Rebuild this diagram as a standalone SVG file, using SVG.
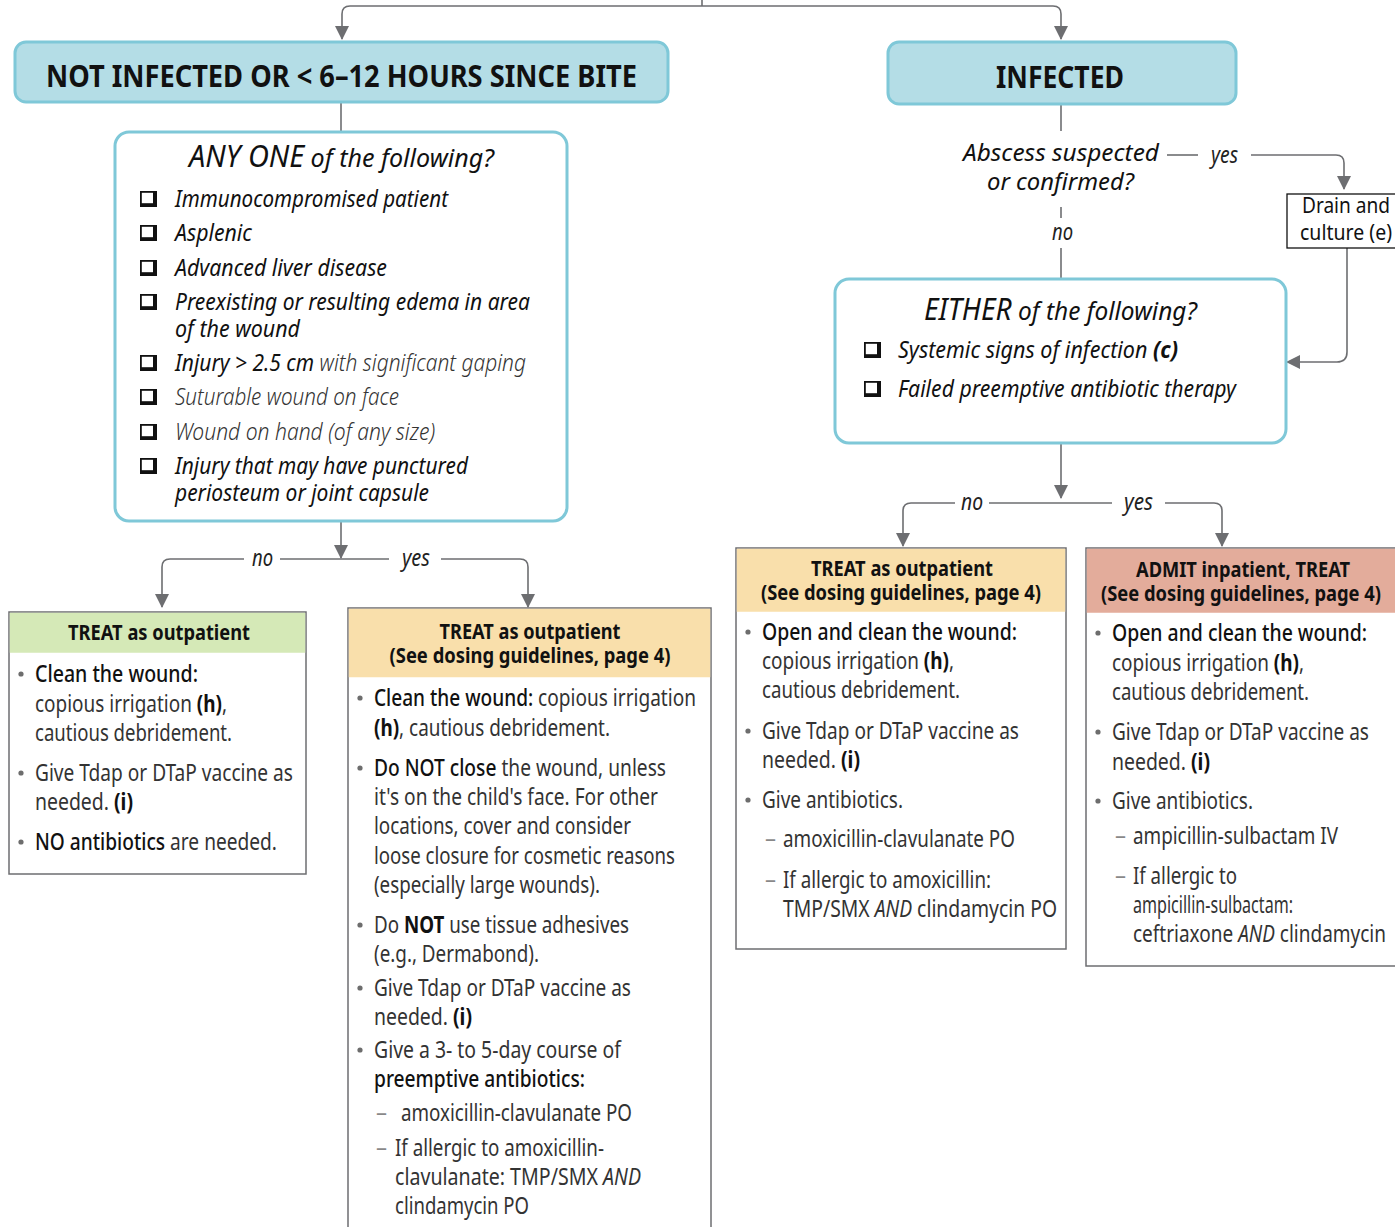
<svg xmlns="http://www.w3.org/2000/svg" width="1395" height="1227" viewBox="0 0 1395 1227">
<style>
text{font-family:"Noto Sans","Open Sans","Liberation Sans",sans-serif;}
.body{font-size:23.5px;fill:#333;}
.m{fill:#111;font-weight:500;}
.b{font-weight:bold;fill:#111;}
.i{font-style:italic;}
.hdr{font-size:20.5px;font-weight:bold;fill:#111;text-anchor:middle;}
.chk{font-size:24px;font-style:italic;fill:#111;}
.lt{font-weight:300;fill:#333;}
.lab{font-size:23px;font-style:italic;fill:#222;}
.big{font-size:30px;font-weight:bold;fill:#111;}
.ttl{font-size:26px;font-style:italic;fill:#111;}
.drn{font-size:22px;fill:#111;}
.bul{fill:#6d6d6d;}
.dash{font-size:22px;fill:#888;}
.conn{fill:none;stroke:#6d6e71;stroke-width:1.6;}
.blue{fill:#b4dde6;stroke:#7fc8d8;stroke-width:3;}
.q{fill:#fff;stroke:#7fc8d8;stroke-width:3;}
.card{fill:#fff;stroke:#6d6e71;stroke-width:1.5;}
</style>
<defs>
<marker id="ah" markerUnits="userSpaceOnUse" markerWidth="14" markerHeight="16" viewBox="0 0 14 16" refX="13" refY="8" orient="auto">
<path d="M0,1 L14,8 L0,15 Z" fill="#6d6e71"/>
</marker>
<symbol id="cb" viewBox="0 0 17 16" width="17" height="16">
<rect x="0" y="0" width="17" height="16" fill="#111"/>
<rect x="1.8" y="1.8" width="11.2" height="10.4" fill="#fff"/>
</symbol>
</defs>

<g id="connectors">
<path class="conn" d="M702,0 V6"/>
<path class="conn" d="M702,6 H350 Q342,6 342,14 V39" marker-end="url(#ah)"/>
<path class="conn" d="M702,6 H1053 Q1061,6 1061,14 V39" marker-end="url(#ah)"/>
<path class="conn" d="M341,102 V132"/>
<path class="conn" d="M341,521 V558" marker-end="url(#ah)"/>
<path class="conn" d="M244,559 H170 Q162,559 162,567 V607" marker-end="url(#ah)"/>
<path class="conn" d="M280,559 H389"/>
<path class="conn" d="M441,559 H520 Q528,559 528,567 V607" marker-end="url(#ah)"/>
<path class="conn" d="M1061,104 V131"/>
<path class="conn" d="M1167,155 H1198"/>
<path class="conn" d="M1251,155 H1336 Q1344,155 1344,163 V189" marker-end="url(#ah)"/>
<path class="conn" d="M1347,248 V352 Q1347,362 1337,362 H1287" marker-end="url(#ah)"/>
<path class="conn" d="M1061,207 V218"/>
<path class="conn" d="M1061,248 V279"/>
<path class="conn" d="M1061,443 V498" marker-end="url(#ah)"/>
<path class="conn" d="M955,503 H911 Q903,503 903,511 V546" marker-end="url(#ah)"/>
<path class="conn" d="M989,503 H1112"/>
<path class="conn" d="M1165,503 H1214 Q1222,503 1222,511 V546" marker-end="url(#ah)"/>
<text class="lab" transform="matrix(.82 0 0 1 252 566)" textLength="25.6" lengthAdjust="spacingAndGlyphs">no</text>
<text class="lab" transform="matrix(.82 0 0 1 402 566)" textLength="34.1" lengthAdjust="spacingAndGlyphs">yes</text>
<text class="lab" transform="matrix(.82 0 0 1 1211 163)" textLength="32.9" lengthAdjust="spacingAndGlyphs">yes</text>
<text class="lab" transform="matrix(.82 0 0 1 1052 240)" textLength="25.6" lengthAdjust="spacingAndGlyphs">no</text>
<text class="lab" transform="matrix(.82 0 0 1 961 510)" textLength="26.8" lengthAdjust="spacingAndGlyphs">no</text>
<text class="lab" transform="matrix(.82 0 0 1 1124 510)" textLength="35.4" lengthAdjust="spacingAndGlyphs">yes</text>
</g>

<g id="not-infected">
<rect class="blue" x="15" y="42" width="653" height="60" rx="11"/>
<text class="big" transform="matrix(.76 0 0 1 46 87)" textLength="777.6" lengthAdjust="spacingAndGlyphs">NOT INFECTED OR &lt; 6–12 HOURS SINCE BITE</text>
</g>

<g id="infected">
<rect class="blue" x="888" y="42" width="348" height="62" rx="11"/>
<text class="big" transform="matrix(.76 0 0 1 996 88)" textLength="168.4" lengthAdjust="spacingAndGlyphs">INFECTED</text>
</g>

<g id="any-one">
<rect class="q" x="115" y="132" width="452" height="389" rx="14"/>
<text class="ttl" transform="matrix(.82 0 0 1 189 167)" textLength="372" lengthAdjust="spacingAndGlyphs"><tspan font-size="30px">ANY ONE</tspan> of the following?</text>
<use href="#cb" x="140" y="191"/>
<text class="chk" transform="matrix(.82 0 0 1 175 207)" textLength="332.9" lengthAdjust="spacingAndGlyphs">Immunocompromised patient</text>
<use href="#cb" x="140" y="225"/>
<text class="chk" transform="matrix(.82 0 0 1 175 241)" textLength="93.9" lengthAdjust="spacingAndGlyphs">Asplenic</text>
<use href="#cb" x="140" y="260"/>
<text class="chk" transform="matrix(.82 0 0 1 175 276)" textLength="258.5" lengthAdjust="spacingAndGlyphs">Advanced liver disease</text>
<use href="#cb" x="140" y="294"/>
<text class="chk" transform="matrix(.82 0 0 1 175 310)" textLength="432.9" lengthAdjust="spacingAndGlyphs">Preexisting or resulting edema in area</text>
<text class="chk" transform="matrix(.82 0 0 1 175 337)" textLength="152.4" lengthAdjust="spacingAndGlyphs">of the wound</text>
<use href="#cb" x="140" y="355"/>
<text class="chk" transform="matrix(.82 0 0 1 175 371)" textLength="428" lengthAdjust="spacingAndGlyphs">Injury &gt; 2.5 cm <tspan class="lt">with significant gaping</tspan></text>
<use href="#cb" x="140" y="389"/>
<text class="chk lt" transform="matrix(.82 0 0 1 175 405)" textLength="273.2" lengthAdjust="spacingAndGlyphs">Suturable wound on face</text>
<use href="#cb" x="140" y="424"/>
<text class="chk lt" transform="matrix(.82 0 0 1 175 440)" textLength="317.1" lengthAdjust="spacingAndGlyphs">Wound on hand (of any size)</text>
<use href="#cb" x="140" y="458"/>
<text class="chk" transform="matrix(.82 0 0 1 175 474)" textLength="357.3" lengthAdjust="spacingAndGlyphs">Injury that may have punctured</text>
<text class="chk" transform="matrix(.82 0 0 1 175 501)" textLength="309.8" lengthAdjust="spacingAndGlyphs">periosteum or joint capsule</text>
</g>

<g id="abscess">
<text class="chk" transform="matrix(.82 0 0 1 963 161)" textLength="239" lengthAdjust="spacingAndGlyphs">Abscess suspected</text>
<text class="chk" transform="matrix(.82 0 0 1 987 190)" textLength="179.3" lengthAdjust="spacingAndGlyphs">or confirmed?</text>
</g>

<g id="drain">
<rect x="1287" y="194" width="120" height="54" fill="#fff" stroke="#111" stroke-width="1.3"/>
<text class="drn" transform="matrix(.8 0 0 1 1302 213)" textLength="110" lengthAdjust="spacingAndGlyphs">Drain and</text>
<text class="drn" transform="matrix(.8 0 0 1 1300 240)" textLength="115" lengthAdjust="spacingAndGlyphs">culture (e)</text>
</g>

<g id="either">
<rect class="q" x="835" y="279" width="451" height="164" rx="14"/>
<text class="ttl" transform="matrix(.82 0 0 1 924 320)" textLength="332.9" lengthAdjust="spacingAndGlyphs"><tspan font-size="30px">EITHER</tspan> of the following?</text>
<use href="#cb" x="864" y="342"/>
<text class="chk" transform="matrix(.82 0 0 1 898 358)" textLength="341.5" lengthAdjust="spacingAndGlyphs">Systemic signs of infection <tspan font-weight="bold">(c)</tspan></text>
<use href="#cb" x="864" y="381"/>
<text class="chk" transform="matrix(.82 0 0 1 898 397)" textLength="412.2" lengthAdjust="spacingAndGlyphs">Failed preemptive antibiotic therapy</text>
</g>

<g id="treat-green">
<rect class="card" x="9" y="612" width="297" height="262"/>
<rect x="9.75" y="612.75" width="295.5" height="40" fill="#d5e9b7"/>
<text class="hdr" transform="matrix(.74 0 0 1 159 640)" textLength="245.9" lengthAdjust="spacingAndGlyphs">TREAT as outpatient</text>
<circle class="bul" cx="21" cy="674" r="2.6"/>
<text class="body" transform="matrix(.74 0 0 1 35 682)" textLength="220.3" lengthAdjust="spacingAndGlyphs"><tspan class="m">Clean the wound:</tspan></text>
<text class="body" transform="matrix(.74 0 0 1 35 712)" textLength="259.5" lengthAdjust="spacingAndGlyphs">copious irrigation <tspan class="b">(h)</tspan>,</text>
<text class="body" transform="matrix(.74 0 0 1 35 741)" textLength="266.2" lengthAdjust="spacingAndGlyphs">cautious debridement.</text>
<circle class="bul" cx="21" cy="773" r="2.6"/>
<text class="body" transform="matrix(.74 0 0 1 35 781)" textLength="348.6" lengthAdjust="spacingAndGlyphs">Give Tdap or DTaP vaccine as</text>
<text class="body" transform="matrix(.74 0 0 1 35 810)" textLength="132.4" lengthAdjust="spacingAndGlyphs">needed. <tspan class="b">(i)</tspan></text>
<circle class="bul" cx="21" cy="842" r="2.6"/>
<text class="body" transform="matrix(.74 0 0 1 35 850)" textLength="327" lengthAdjust="spacingAndGlyphs"><tspan class="m">NO antibiotics</tspan> are needed.</text>
</g>

<g id="treat-preemptive">
<rect class="card" x="348" y="608" width="363" height="640"/>
<rect x="348.75" y="608.75" width="361.5" height="68.5" fill="#f9dfab"/>
<text class="hdr" transform="matrix(.74 0 0 1 530 639)" textLength="244.6" lengthAdjust="spacingAndGlyphs">TREAT as outpatient</text>
<text class="hdr" transform="matrix(.74 0 0 1 530 663)" textLength="379.7" lengthAdjust="spacingAndGlyphs">(See dosing guidelines, page 4)</text>
<circle class="bul" cx="360" cy="698" r="2.6"/>
<text class="body" transform="matrix(.74 0 0 1 374 706)" textLength="435.1" lengthAdjust="spacingAndGlyphs"><tspan class="m">Clean the wound:</tspan> copious irrigation</text>
<text class="body" transform="matrix(.74 0 0 1 374 736)" textLength="318.9" lengthAdjust="spacingAndGlyphs"><tspan class="b">(h)</tspan>, cautious debridement.</text>
<circle class="bul" cx="360" cy="768" r="2.6"/>
<text class="body" transform="matrix(.74 0 0 1 374 776)" textLength="394.6" lengthAdjust="spacingAndGlyphs"><tspan class="m">Do NOT close</tspan> the wound, unless</text>
<text class="body" transform="matrix(.74 0 0 1 374 805)" textLength="383.8" lengthAdjust="spacingAndGlyphs">it's on the child's face. For other</text>
<text class="body" transform="matrix(.74 0 0 1 374 834)" textLength="347.3" lengthAdjust="spacingAndGlyphs">locations, cover and consider</text>
<text class="body" transform="matrix(.74 0 0 1 374 864)" textLength="406.8" lengthAdjust="spacingAndGlyphs">loose closure for cosmetic reasons</text>
<text class="body" transform="matrix(.74 0 0 1 374 893)" textLength="305.4" lengthAdjust="spacingAndGlyphs">(especially large wounds).</text>
<circle class="bul" cx="360" cy="925" r="2.6"/>
<text class="body" transform="matrix(.74 0 0 1 374 933)" textLength="344.6" lengthAdjust="spacingAndGlyphs">Do <tspan class="b">NOT</tspan> use tissue adhesives</text>
<text class="body" transform="matrix(.74 0 0 1 374 962)" textLength="223" lengthAdjust="spacingAndGlyphs">(e.g., Dermabond).</text>
<circle class="bul" cx="360" cy="988" r="2.6"/>
<text class="body" transform="matrix(.74 0 0 1 374 996)" textLength="347.3" lengthAdjust="spacingAndGlyphs">Give Tdap or DTaP vaccine as</text>
<text class="body" transform="matrix(.74 0 0 1 374 1025)" textLength="132.4" lengthAdjust="spacingAndGlyphs">needed. <tspan class="b">(i)</tspan></text>
<circle class="bul" cx="360" cy="1050" r="2.6"/>
<text class="body" transform="matrix(.74 0 0 1 374 1058)" textLength="333.8" lengthAdjust="spacingAndGlyphs">Give a 3- to 5-day course of</text>
<text class="body" transform="matrix(.74 0 0 1 374 1087)" textLength="285.1" lengthAdjust="spacingAndGlyphs"><tspan class="m">preemptive antibiotics:</tspan></text>
<text class="dash" x="376" y="1120">–</text>
<text class="body" transform="matrix(.74 0 0 1 401 1121)" textLength="312.2" lengthAdjust="spacingAndGlyphs">amoxicillin-clavulanate PO</text>
<text class="dash" x="376" y="1155">–</text>
<text class="body" transform="matrix(.74 0 0 1 395 1156)" textLength="282.4" lengthAdjust="spacingAndGlyphs">If allergic to amoxicillin-</text>
<text class="body" transform="matrix(.74 0 0 1 395 1185)" textLength="332.4" lengthAdjust="spacingAndGlyphs">clavulanate: TMP/SMX <tspan class="i">AND</tspan></text>
<text class="body" transform="matrix(.74 0 0 1 395 1214)" textLength="181.1" lengthAdjust="spacingAndGlyphs">clindamycin PO</text>
</g>

<g id="treat-infected">
<rect class="card" x="736" y="548" width="330" height="401"/>
<rect x="736.75" y="548.75" width="328.5" height="63" fill="#f9dfab"/>
<text class="hdr" transform="matrix(.74 0 0 1 902 576)" textLength="245.9" lengthAdjust="spacingAndGlyphs">TREAT as outpatient</text>
<text class="hdr" transform="matrix(.74 0 0 1 901 600)" textLength="378.4" lengthAdjust="spacingAndGlyphs">(See dosing guidelines, page 4)</text>
<circle class="bul" cx="748" cy="632" r="2.6"/>
<text class="body" transform="matrix(.74 0 0 1 762 640)" textLength="344.6" lengthAdjust="spacingAndGlyphs"><tspan class="m">Open and clean the wound:</tspan></text>
<text class="body" transform="matrix(.74 0 0 1 762 669)" textLength="259.5" lengthAdjust="spacingAndGlyphs">copious irrigation <tspan class="b">(h)</tspan>,</text>
<text class="body" transform="matrix(.74 0 0 1 762 698)" textLength="267.6" lengthAdjust="spacingAndGlyphs">cautious debridement.</text>
<circle class="bul" cx="748" cy="731" r="2.6"/>
<text class="body" transform="matrix(.74 0 0 1 762 739)" textLength="347.3" lengthAdjust="spacingAndGlyphs">Give Tdap or DTaP vaccine as</text>
<text class="body" transform="matrix(.74 0 0 1 762 768)" textLength="132.4" lengthAdjust="spacingAndGlyphs">needed. <tspan class="b">(i)</tspan></text>
<circle class="bul" cx="748" cy="800" r="2.6"/>
<text class="body" transform="matrix(.74 0 0 1 762 808)" textLength="190.5" lengthAdjust="spacingAndGlyphs">Give antibiotics.</text>
<text class="dash" x="765" y="846">–</text>
<text class="body" transform="matrix(.74 0 0 1 783 847)" textLength="313.5" lengthAdjust="spacingAndGlyphs">amoxicillin-clavulanate PO</text>
<text class="dash" x="765" y="887">–</text>
<text class="body" transform="matrix(.74 0 0 1 783 888)" textLength="281.1" lengthAdjust="spacingAndGlyphs">If allergic to amoxicillin:</text>
<text class="body" transform="matrix(.74 0 0 1 783 917)" textLength="370.3" lengthAdjust="spacingAndGlyphs">TMP/SMX <tspan class="i">AND</tspan> clindamycin PO</text>
</g>

<g id="admit-inpatient">
<rect class="card" x="1086" y="548" width="330" height="418"/>
<rect x="1086.75" y="548.75" width="328.5" height="64" fill="#e3ac9b"/>
<text class="hdr" transform="matrix(.74 0 0 1 1243 577)" textLength="289.2" lengthAdjust="spacingAndGlyphs">ADMIT inpatient, TREAT</text>
<text class="hdr" transform="matrix(.74 0 0 1 1241 601)" textLength="378.4" lengthAdjust="spacingAndGlyphs">(See dosing guidelines, page 4)</text>
<circle class="bul" cx="1098" cy="633" r="2.6"/>
<text class="body" transform="matrix(.74 0 0 1 1112 641)" textLength="344.6" lengthAdjust="spacingAndGlyphs"><tspan class="m">Open and clean the wound:</tspan></text>
<text class="body" transform="matrix(.74 0 0 1 1112 671)" textLength="259.5" lengthAdjust="spacingAndGlyphs">copious irrigation <tspan class="b">(h)</tspan>,</text>
<text class="body" transform="matrix(.74 0 0 1 1112 700)" textLength="266.2" lengthAdjust="spacingAndGlyphs">cautious debridement.</text>
<circle class="bul" cx="1098" cy="732" r="2.6"/>
<text class="body" transform="matrix(.74 0 0 1 1112 740)" textLength="347.3" lengthAdjust="spacingAndGlyphs">Give Tdap or DTaP vaccine as</text>
<text class="body" transform="matrix(.74 0 0 1 1112 770)" textLength="132.4" lengthAdjust="spacingAndGlyphs">needed. <tspan class="b">(i)</tspan></text>
<circle class="bul" cx="1098" cy="801" r="2.6"/>
<text class="body" transform="matrix(.74 0 0 1 1112 809)" textLength="190.5" lengthAdjust="spacingAndGlyphs">Give antibiotics.</text>
<text class="dash" x="1115" y="843">–</text>
<text class="body" transform="matrix(.74 0 0 1 1133 844)" textLength="277" lengthAdjust="spacingAndGlyphs">ampicillin-sulbactam IV</text>
<text class="dash" x="1115" y="883">–</text>
<text class="body" transform="matrix(.74 0 0 1 1133 884)" textLength="140.5" lengthAdjust="spacingAndGlyphs">If allergic to</text>
<text class="body" transform="matrix(.74 0 0 1 1133 913)" textLength="216.2" lengthAdjust="spacingAndGlyphs">ampicillin-sulbactam:</text>
<text class="body" transform="matrix(.74 0 0 1 1133 942)" textLength="341.9" lengthAdjust="spacingAndGlyphs">ceftriaxone <tspan class="i">AND</tspan> clindamycin</text>
</g>
</svg>
